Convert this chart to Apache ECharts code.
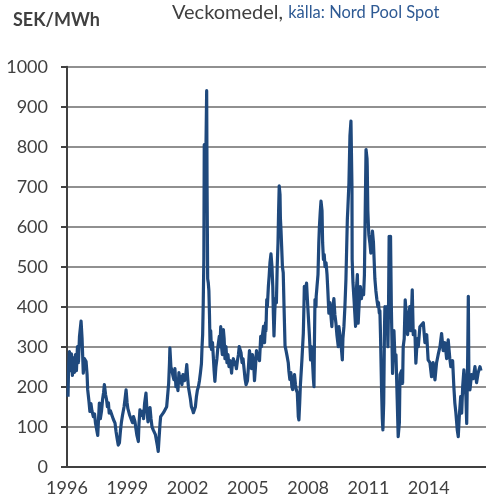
<!DOCTYPE html>
<html>
<head>
<meta charset="utf-8">
<script src="https://cdn.jsdelivr.net/npm/echarts@6.0.0/dist/echarts.min.js"></script>
<style>
    html, body { margin: 0; padding: 0; background: #fff; }
    #main { width: 486px; height: 501px; }
</style>
</head>
<body>
<div id="main"></div>
<script>
// veckomedel, år som decimaltal
var weeks = [
    1996.05, 1996.08, 1996.12, 1996.17, 1996.22, 1996.27, 1996.32, 1996.37, 1996.42, 1996.47, 1996.52, 1996.57, 1996.62, 1996.70, 1996.75, 1996.81, 1996.87, 1996.95,
    1997.00, 1997.03, 1997.09, 1997.14, 1997.19, 1997.24, 1997.31, 1997.37, 1997.42, 1997.47, 1997.53, 1997.57, 1997.61, 1997.66, 1997.72, 1997.77, 1997.82, 1997.86, 1997.92, 1997.97,
    1998.01, 1998.06, 1998.10, 1998.16, 1998.24, 1998.31, 1998.39, 1998.44, 1998.49, 1998.55, 1998.61, 1998.66, 1998.71, 1998.76, 1998.84, 1998.89, 1998.94, 1998.99,
    1999.03, 1999.11, 1999.18, 1999.26, 1999.31, 1999.38, 1999.43, 1999.48, 1999.55, 1999.58, 1999.63, 1999.68, 1999.76, 1999.81, 1999.86, 1999.93, 1999.98,
    2000.03, 2000.08, 2000.13, 2000.18, 2000.23, 2000.29, 2000.35, 2000.40, 2000.45, 2000.50, 2000.54, 2000.58, 2000.63, 2000.66, 2000.73, 2000.80, 2000.88, 2000.96,
    2001.02, 2001.06, 2001.10, 2001.12, 2001.17, 2001.22, 2001.27, 2001.32, 2001.37, 2001.42, 2001.47, 2001.52, 2001.57, 2001.62, 2001.67, 2001.72, 2001.77, 2001.85, 2001.90, 2001.96,
    2002.00, 2002.04, 2002.09, 2002.14, 2002.19, 2002.25, 2002.29, 2002.34, 2002.39, 2002.44, 2002.49, 2002.54, 2002.59, 2002.64, 2002.69, 2002.72, 2002.75, 2002.78, 2002.81, 2002.83, 2002.86, 2002.89, 2002.93, 2002.95, 2002.97,
    2003.00, 2003.03, 2003.06, 2003.09, 2003.12, 2003.15, 2003.19, 2003.24, 2003.28, 2003.32, 2003.36, 2003.41, 2003.46, 2003.51, 2003.58, 2003.61, 2003.65, 2003.69, 2003.73, 2003.78, 2003.82, 2003.86, 2003.91, 2003.96,
    2004.01, 2004.06, 2004.11, 2004.16, 2004.19, 2004.23, 2004.28, 2004.33, 2004.38, 2004.43, 2004.48, 2004.53, 2004.57, 2004.61, 2004.66, 2004.71, 2004.76, 2004.81, 2004.86, 2004.91, 2004.94, 2004.98,
    2005.03, 2005.08, 2005.13, 2005.18, 2005.23, 2005.28, 2005.33, 2005.38, 2005.43, 2005.48, 2005.53, 2005.58, 2005.64, 2005.68, 2005.73, 2005.78, 2005.83, 2005.88, 2005.90, 2005.94, 2005.97,
    2006.02, 2006.06, 2006.10, 2006.15, 2006.20, 2006.24, 2006.27, 2006.30, 2006.34, 2006.37, 2006.42, 2006.46, 2006.50, 2006.53, 2006.56, 2006.60, 2006.62, 2006.65, 2006.68, 2006.72, 2006.76, 2006.80, 2006.85, 2006.90, 2006.95,
    2007.01, 2007.04, 2007.09, 2007.14, 2007.19, 2007.23, 2007.27, 2007.32, 2007.37, 2007.41, 2007.46, 2007.49, 2007.51, 2007.54, 2007.58, 2007.61, 2007.66, 2007.69, 2007.76, 2007.79, 2007.81, 2007.84, 2007.88, 2007.92, 2007.96,
    2008.00, 2008.06, 2008.12, 2008.16, 2008.20, 2008.26, 2008.29, 2008.31, 2008.34, 2008.39, 2008.40, 2008.44, 2008.49, 2008.53, 2008.56, 2008.60, 2008.64, 2008.69, 2008.72, 2008.76, 2008.80, 2008.84, 2008.89, 2008.94, 2008.98,
    2009.03, 2009.08, 2009.13, 2009.18, 2009.23, 2009.28, 2009.33, 2009.38, 2009.43, 2009.50, 2009.53, 2009.58, 2009.63, 2009.70, 2009.73, 2009.78, 2009.83, 2009.88, 2009.95, 2009.98,
    2010.03, 2010.08, 2010.13, 2010.18, 2010.19, 2010.23, 2010.28, 2010.36, 2010.41, 2010.45, 2010.49, 2010.55, 2010.60, 2010.65, 2010.70, 2010.76, 2010.80, 2010.83, 2010.88, 2010.93, 2010.94, 2010.97,
    2011.00, 2011.02, 2011.07, 2011.12, 2011.20, 2011.25, 2011.32, 2011.37, 2011.42, 2011.47, 2011.50, 2011.54, 2011.57, 2011.60, 2011.65, 2011.69, 2011.72, 2011.76, 2011.80, 2011.82, 2011.87, 2011.92, 2011.97,
    2012.00, 2012.03, 2012.07, 2012.10, 2012.14, 2012.17, 2012.20, 2012.27, 2012.32, 2012.37, 2012.40, 2012.43, 2012.48, 2012.52, 2012.54, 2012.57, 2012.65, 2012.70, 2012.73, 2012.78, 2012.83, 2012.90, 2012.95,
    2013.01, 2013.06, 2013.11, 2013.18, 2013.23, 2013.31, 2013.36, 2013.43, 2013.48, 2013.56, 2013.65, 2013.73, 2013.81, 2013.90, 2013.97,
    2014.06, 2014.14, 2014.22, 2014.31, 2014.39, 2014.47, 2014.56, 2014.64, 2014.72, 2014.81, 2014.89, 2014.97,
    2015.05, 2015.10, 2015.19, 2015.25, 2015.30, 2015.35, 2015.42, 2015.47, 2015.52, 2015.59, 2015.64, 2015.69, 2015.75, 2015.80, 2015.85, 2015.89, 2015.94, 2015.97,
    2016.00, 2016.05, 2016.13, 2016.21, 2016.30, 2016.38, 2016.46, 2016.55, 2016.60
];
// SEK/MWh
var price = [
    175, 250, 288, 240, 282, 228, 272, 236, 280, 240, 300, 260, 325, 364, 320, 234, 270, 263,
    230, 192, 165, 138, 158, 140, 125, 132, 108, 112, 78, 120, 159, 120, 140, 168, 185, 205, 180, 167,
    150, 160, 134, 140, 128, 118, 109, 88, 72, 54, 60, 90, 112, 128, 150, 170, 192, 160,
    145, 130, 135, 110, 125, 113, 95, 78, 63, 105, 142, 128, 138, 120, 158, 184, 140,
    112, 130, 148, 120, 100, 92, 95, 80, 75, 52, 38, 70, 108, 125, 128, 135, 140, 150,
    185, 209, 260, 297, 250, 240, 228, 218, 245, 200, 215, 190, 235, 210, 225, 205, 230, 215, 225, 255,
    225, 200, 185, 170, 150, 142, 135, 140, 150, 175, 192, 200, 215, 235, 258, 300, 330, 410, 520, 805, 780, 700, 860, 940, 700,
    470, 460, 440, 380, 300, 340, 293, 310, 276, 240, 213, 250, 270, 300, 326, 300, 350, 300, 280, 343, 320, 270, 300, 260,
    280, 250, 265, 250, 234, 260, 270, 255, 262, 245, 265, 280, 300, 305, 285, 260, 270, 245, 220, 205, 200, 215,
    250, 290, 270, 245, 280, 265, 215, 250, 290, 270, 280, 265, 326, 300, 330, 351, 310, 360, 340, 418, 400,
    450, 477, 510, 532, 500, 450, 380, 327, 390, 420, 410, 500, 560, 640, 702, 680, 620, 590, 552, 500, 485, 400, 302, 290, 277,
    260, 240, 218, 235, 200, 193, 215, 230, 205, 192, 185, 150, 125, 117, 160, 200, 242, 267, 334, 400, 451, 420, 440, 459, 420,
    384, 330, 267, 300, 280, 220, 200, 300, 418, 400, 426, 450, 480, 560, 600, 635, 664, 640, 560, 518, 530, 500, 510, 480, 440,
    384, 410, 380, 350, 400, 420, 380, 360, 330, 300, 350, 330, 310, 267, 320, 350, 401, 468, 618, 650,
    710, 827, 864, 700, 518, 460, 420, 351, 450, 480, 359, 420, 450, 420, 440, 430, 480, 601, 793, 770, 751, 640,
    601, 580, 560, 534, 589, 560, 470, 440, 418, 400, 410, 384, 390, 330, 200, 120, 92, 160, 350, 400, 360, 400, 300,
    400, 576, 540, 576, 400, 317, 233, 340, 270, 280, 225, 170, 75, 70, 110, 230, 240, 208, 300, 320, 417, 422, 330,
    380, 400, 340, 442, 330, 340, 259, 320, 300, 350, 351, 360, 310, 330, 267,
    260, 225, 260, 217, 260, 280, 300, 333, 290, 310, 270, 317,
    270, 250, 265, 200, 159, 135, 92, 75, 125, 175, 134, 200, 242, 240, 175, 108, 280, 426,
    220, 192, 230, 220, 250, 210, 235, 250, 240
];
var startYear = 1996;
var endYear = 2016.85;
var yearStep = 3;
var yMax = 1000;
var yStep = 100;

var PriceModule = (function (echarts) {
    var thisContext;
    var chart;
    var PriceClass = function () {
        thisContext = this;
        this.init = function () {
            this.initChart();
        }
    }
    PriceClass.prototype = {
        initChart: function () {
            chart = echarts.init(document.getElementById('main'));
            var seriesData = weeks.map(function (w, i) {
                return [w - startYear, price[i]];
            });
            var option = {
                animation: false,
                backgroundColor: '#fff',
                title: [{
                    text: 'SEK/MWh',
                    left: 8,
                    top: 6,
                    textStyle: {
                        fontFamily: 'Lato',
                        fontWeight: 'bold',
                        fontSize: 18,
                        color: '#404040'
                    }
                }, {
                    text: '{a|Veckomedel, }{b|källa: Nord Pool Spot}',
                    left: 167,
                    top: -2,
                    textStyle: {
                        fontWeight: 'normal',
                        rich: {
                            a: {
                                fontFamily: 'Lato',
                                fontWeight: 'normal',
                                fontSize: 20,
                                color: '#404040'
                            },
                            b: {
                                fontFamily: 'Lato',
                                fontWeight: 'normal',
                                fontSize: 16.5,
                                color: '#2e5a94'
                            }
                        }
                    }
                }],
                grid: {
                    left: 67,
                    right: 0,
                    top: 66.7,
                    bottom: 34.3
                },
                xAxis: {
                    type: 'value',
                    min: 0,
                    max: endYear - startYear,
                    interval: yearStep,
                    axisLine: {
                        lineStyle: { color: '#404040', width: 2 }
                    },
                    axisTick: { show: false },
                    splitLine: { show: false },
                    axisLabel: {
                        showMaxLabel: false,
                        margin: 12,
                        fontFamily: 'Lato',
                        fontSize: 18,
                        color: '#404040',
                        formatter: function (v) {
                            return String(startYear + v);
                        }
                    }
                },
                yAxis: {
                    type: 'value',
                    min: 0,
                    max: yMax,
                    interval: yStep,
                    axisLine: {
                        show: true,
                        lineStyle: { color: '#404040', width: 2 }
                    },
                    axisTick: {
                        show: true,
                        length: 6,
                        lineStyle: { color: '#404040', width: 2 }
                    },
                    splitLine: {
                        lineStyle: { color: '#6b6b6b', width: 1.5 }
                    },
                    axisLabel: {
                        margin: 19,
                        fontFamily: 'Lato',
                        fontSize: 18,
                        color: '#404040',
                        formatter: function (v) {
                            return String(v);
                        }
                    }
                },
                series: [{
                    type: 'line',
                    data: seriesData,
                    showSymbol: false,
                    lineStyle: {
                        color: '#1f497d',
                        width: 3.2,
                        join: 'round'
                    }
                }]
            };
            chart.setOption(option);
        },
        constructor: PriceClass
    };
    return new PriceClass();
})(echarts);
PriceModule.init();
</script>
</body>
</html>
